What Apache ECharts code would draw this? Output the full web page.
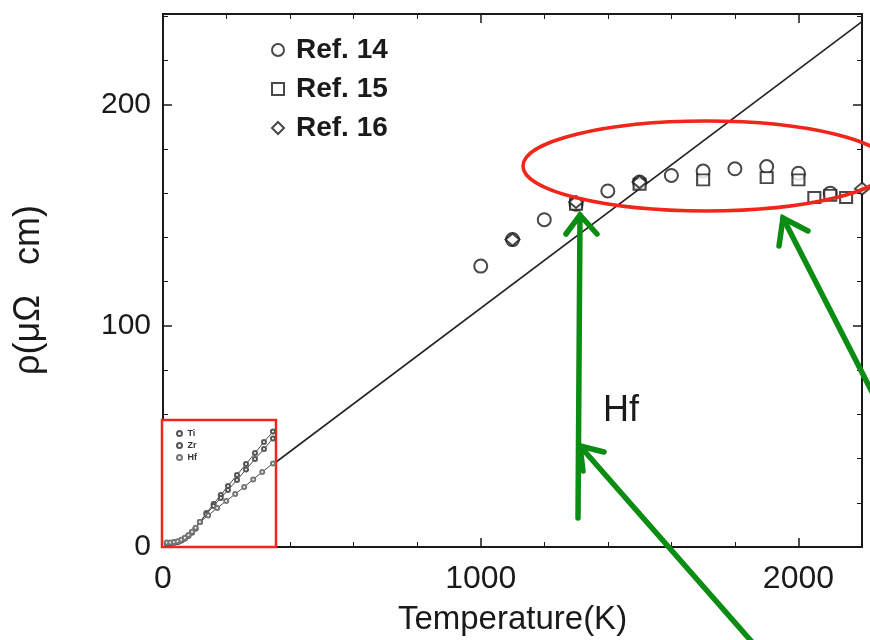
<!DOCTYPE html>
<html>
<head>
<meta charset="utf-8">
<script src="https://cdn.jsdelivr.net/npm/echarts@6/dist/echarts.min.js"></script>
<style>
  html, body { margin: 0; padding: 0; background: #fff; }
  #chart { width: 870px; height: 640px; }
</style>
</head>
<body>
<div id="chart"></div>
<script>
// Electrical resistivity of Hf versus temperature, high-temperature data
const temps14 = [1000, 1100, 1200, 1300, 1400, 1500, 1600, 1700, 1800, 1900, 2000, 2100];
const rho14   = [127, 139, 148, 155, 161, 165, 168, 170, 171, 172, 169, 160];
const temps15 = [1300, 1500, 1700, 1900, 2000, 2050, 2100, 2150];
const rho15   = [155, 164, 166, 167, 166, 158, 159, 158];
const temps16 = [1100, 1300, 1500, 2200];
const rho16   = [139, 156, 165, 162];

// Straight-line fit through the low-temperature regime
const fitT   = [0, 2200];
const fitRho = [0, 237.6];

// Axis ticks
const xTicks = [0, 1000, 2000];
const yTicks = [0, 100, 200];

// Small low-temperature panel (Ti, Zr, Hf)
const lowT  = [5, 15, 25, 35, 45, 55, 65, 75, 85, 97, 115, 135, 155, 175, 200, 225, 250, 275, 300];
const tiRho = [1.0, 1.0, 1.2, 1.5, 2.2, 3.3, 4.6, 6.2, 8.2, 11.5, 16.0, 20.5, 25.0, 29.5, 35.0, 40.5, 46.0, 51.5, 56.7];
const zrRho = [0.8, 0.9, 1.1, 1.5, 2.2, 3.3, 4.6, 6.2, 8.2, 11.5, 15.5, 19.5, 23.5, 27.5, 32.5, 37.8, 43.0, 48.0, 53.3];
const hfT   = [5, 15, 25, 35, 45, 55, 65, 75, 85, 97, 120, 145, 170, 195, 220, 245, 270, 300];
const hfRho = [1.2, 1.3, 1.5, 1.9, 2.6, 3.6, 5.0, 6.6, 8.6, 11.5, 14.8, 18.5, 22.0, 25.5, 29.0, 32.8, 36.5, 40.8];

const zip = (xs, ys) => xs.map((x, i) => [x, ys[i]]);

const FONT = "'Liberation Sans', Arial, sans-serif";
const INK = '#1a1a1a';
const GREEN = '#0b8c12';
const RED = '#f0261a';

const chart = echarts.init(document.getElementById('chart'), null, { renderer: 'canvas' });

const frameAxis = (extra) => Object.assign({
  axisLine: { show: true, onZero: false, lineStyle: { color: INK, width: 2 } },
  axisTick: { show: true, inside: true, length: 9, lineStyle: { color: INK, width: 1.5 } },
  minorTick: { show: true, splitNumber: 5, length: 5, lineStyle: { color: INK, width: 1 } },
  splitLine: { show: false },
}, extra);

// overlay arrows live on their own layer above the plot
const arrow = (tail, tip, w1, w2) => ({
  type: 'group', zlevel: 2,
  children: [
    { type: 'line', zlevel: 2, shape: { x1: tail[0], y1: tail[1], x2: tip[0], y2: tip[1] },
      style: { stroke: GREEN, lineWidth: 5.5, lineCap: 'round' } },
    { type: 'polyline', zlevel: 2, shape: { points: [w1, tip, w2] },
      style: { stroke: GREEN, lineWidth: 5.5, fill: null, lineCap: 'round', lineJoin: 'miter' } }
  ]
});

const insetLine = (name, data, color) => ({
  name, type: 'line', xAxisIndex: 2, yAxisIndex: 2, zlevel: 1, z: 5,
  data, symbol: 'emptyCircle', symbolSize: 4,
  lineStyle: { color: '#333', width: 0.9 },
  itemStyle: { color, borderWidth: 0.8 }
});

const option = {
  backgroundColor: '#ffffff',
  animation: false,
  textStyle: { fontFamily: FONT },
  grid: [
    { left: 163, top: 14, width: 699, height: 533, outerBoundsMode: 'none' },
    { left: 165, top: 425, width: 108, height: 120, outerBoundsMode: 'none' }
  ],
  xAxis: [
    frameAxis({
      gridIndex: 0, type: 'value', min: 0, max: 2200, interval: 1000, position: 'bottom',
      name: 'Temperature(K)', nameLocation: 'middle', nameGap: 56, nameMoveOverlap: false,
      nameTextStyle: { fontFamily: FONT, fontSize: 33, color: INK },
      axisLabel: {
        fontFamily: FONT, fontSize: 32, color: INK, margin: 16,
        formatter: v => (xTicks.includes(v) ? String(v) : '')
      }
    }),
    frameAxis({
      gridIndex: 0, type: 'value', min: 0, max: 2200, interval: 1000, position: 'top',
      axisLabel: { show: false }
    }),
    { gridIndex: 1, type: 'value', min: 0, max: 300, show: false }
  ],
  yAxis: [
    frameAxis({
      gridIndex: 0, type: 'value', min: 0, max: 241, interval: 100, position: 'left',
      axisLabel: {
        fontFamily: FONT, fontSize: 30, color: INK, margin: 12,
        formatter: v => (yTicks.includes(v) ? String(v) : '')
      }
    }),
    frameAxis({
      gridIndex: 0, type: 'value', min: 0, max: 241, interval: 100, position: 'right',
      axisLabel: { show: false }
    }),
    { gridIndex: 1, type: 'value', min: 0, max: 60, show: false }
  ],
  legend: [
    {
      data: ['Ref. 14', 'Ref. 15', 'Ref. 16'],
      orient: 'vertical', left: 266, top: 31,
      itemWidth: 12, itemHeight: 12, itemGap: 11,
      textStyle: { fontFamily: FONT, fontWeight: 'bold', fontSize: 28, color: INK, lineHeight: 28, padding: [0, 0, 0, 7] },
      selectedMode: false
    },
    {
      data: [
        { name: 'Ti', icon: 'emptyCircle' },
        { name: 'Zr', icon: 'emptyCircle' },
        { name: 'Hf', icon: 'emptyCircle' }
      ],
      orient: 'vertical', left: 171, top: 424, zlevel: 1, z: 8,
      itemWidth: 6, itemHeight: 5, itemGap: 3,
      textStyle: { fontFamily: FONT, fontWeight: 'bold', fontSize: 9, color: '#333', lineHeight: 9 },
      selectedMode: false
    }
  ],
  series: [
    {
      name: 'fit', type: 'line', xAxisIndex: 0, yAxisIndex: 0, z: 1,
      data: zip(fitT, fitRho), showSymbol: false, silent: true,
      lineStyle: { color: '#222', width: 1.6 }
    },
    {
      name: 'Ref. 14', type: 'scatter', xAxisIndex: 0, yAxisIndex: 0, z: 5,
      data: zip(temps14, rho14), symbol: 'emptyCircle', symbolSize: 13,
      itemStyle: { color: INK, borderWidth: 1.9 }
    },
    {
      name: 'Ref. 15', type: 'scatter', xAxisIndex: 0, yAxisIndex: 0, z: 5,
      data: zip(temps15, rho15), symbol: 'emptyRect', symbolSize: [12, 11],
      itemStyle: { color: INK, borderWidth: 1.9 }
    },
    {
      name: 'Ref. 16', type: 'scatter', xAxisIndex: 0, yAxisIndex: 0, z: 5,
      data: zip(temps16, rho16), symbol: 'emptyDiamond', symbolSize: [14, 12],
      itemStyle: { color: INK, borderWidth: 1.7 }
    },
    insetLine('Ti', zip(lowT, tiRho), '#555'),
    insetLine('Zr', zip(lowT, zrRho), '#555'),
    insetLine('Hf', zip(hfT, hfRho), '#777')
  ],
  graphic: [
    // vertical axis title
    { type: 'text', x: 29, y: 290, rotation: Math.PI / 2,
      style: { text: 'ρ(μΩ   cm)', fontFamily: FONT, fontSize: 36, fill: INK, align: 'center', verticalAlign: 'middle' } },
    // inset panel background with red frame
    { type: 'rect', zlevel: 1, z: 0, shape: { x: 162, y: 420, width: 114, height: 127 },
      style: { fill: '#ffffff', stroke: RED, lineWidth: 2.5 } },
    // element label
    { type: 'text', zlevel: 1, left: 603, top: 393,
      style: { text: 'Hf', fontFamily: FONT, fontSize: 36, fill: INK } },
    // highlight ellipse around the saturation region
    { type: 'ellipse', zlevel: 2, shape: { cx: 706, cy: 166, rx: 183, ry: 45 },
      style: { fill: null, stroke: RED, lineWidth: 3.5 } },
    arrow([578, 518], [580, 215], [566, 234], [597, 234]),
    arrow([752, 642], [580, 446], [604, 452], [583, 471]),
    arrow([872, 392], [783, 218], [779, 246], [808, 231])
  ]
};

chart.setOption(option);
</script>
</body>
</html>
